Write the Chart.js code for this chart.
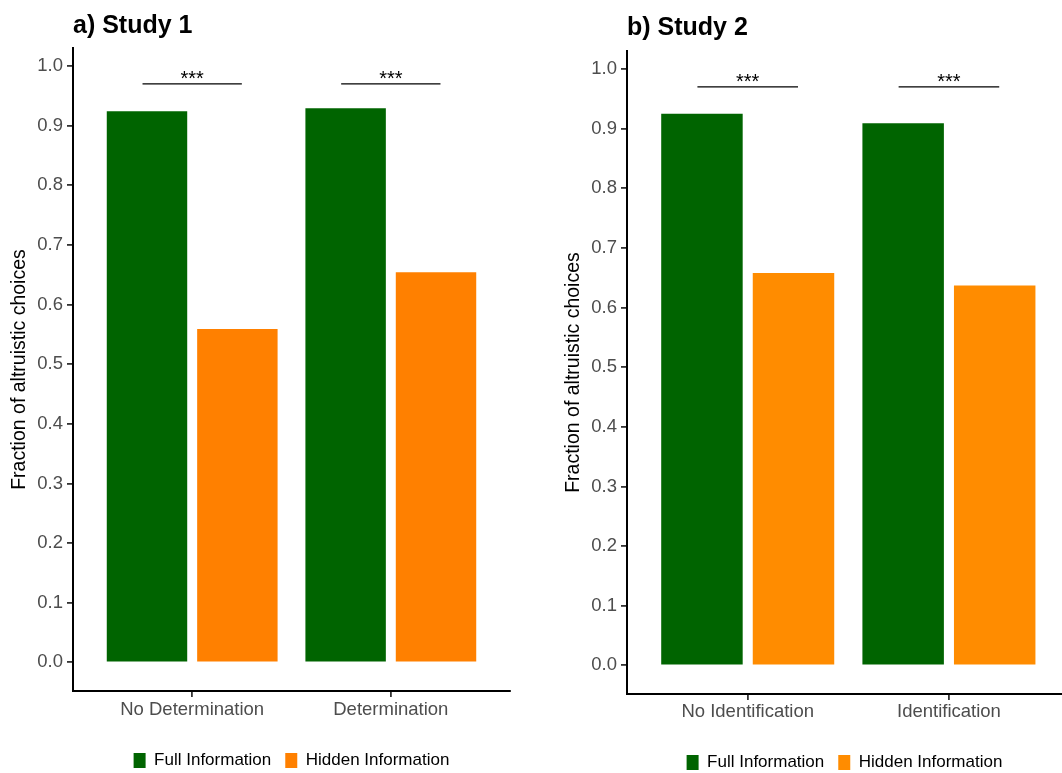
<!DOCTYPE html>
<html>
<head>
<meta charset="utf-8">
<script src="https://cdn.jsdelivr.net/npm/chart.js@4.4.1/dist/chart.umd.min.js"></script>
<style>
  html, body { margin: 0; padding: 0; background: #fff; }
  body { width: 1062px; height: 773px; position: relative; overflow: hidden; }
  .panel { position: absolute; top: 0; height: 773px; }
  #panelA { left: 0; width: 531px; }
  #panelB { left: 554px; width: 508px; }
</style>
</head>
<body>
<div class="panel" id="panelA"><canvas id="chartA"></canvas></div>
<div class="panel" id="panelB"><canvas id="chartB"></canvas></div>
<script>
// data
const seriesNames = ['Full Information', 'Hidden Information'];

const study1Categories = ['No Determination', 'Determination'];
const study1Full = [0.924, 0.929];
const study1Hidden = [0.559, 0.654];
const study1Sig = ['***', '***'];
const study1SigY = [0.97, 0.97];

const study2Categories = ['No Identification', 'Identification'];
const study2Full = [0.925, 0.909];
const study2Hidden = [0.658, 0.637];
const study2Sig = ['***', '***'];
const study2SigY = [0.97, 0.97];

const yTicks = [0, 0.1, 0.2, 0.3, 0.4, 0.5, 0.6, 0.7, 0.8, 0.9, 1.0];

const FONT = "'Liberation Sans', Arial, Helvetica, sans-serif";
Chart.defaults.font.family = FONT;

function makePanel(canvasId, cfg) {
  // significance bars drawn over each category pair
  const sigPlugin = {
    id: 'sigBrackets',
    afterDatasetsDraw(chart) {
      const { ctx, scales: { x, y } } = chart;
      ctx.save();
      ctx.strokeStyle = '#000';
      ctx.fillStyle = '#000';
      ctx.lineWidth = 1.2;
      ctx.font = '20px ' + FONT;
      ctx.textAlign = 'center';
      ctx.textBaseline = 'alphabetic';
      cfg.sig.forEach((lab, i) => {
        const yy = y.getPixelForValue(cfg.sigY[i]);
        const x0 = x.getPixelForValue(i + 1 - 0.25);
        const x1 = x.getPixelForValue(i + 1 + 0.25);
        ctx.beginPath();
        ctx.moveTo(x0, yy);
        ctx.lineTo(x1, yy);
        ctx.stroke();
        ctx.fillText(lab, x.getPixelForValue(i + 1), yy + 1);
      });
      ctx.restore();
    }
  };

  return new Chart(document.getElementById(canvasId), {
    type: 'bar',
    data: {
      datasets: [
        {
          label: seriesNames[0],
          data: cfg.full.map((v, i) => ({ x: i + 1, y: v })),
          backgroundColor: cfg.colors[0]
        },
        {
          label: seriesNames[1],
          data: cfg.hidden.map((v, i) => ({ x: i + 1, y: v })),
          backgroundColor: cfg.colors[1]
        }
      ]
    },
    options: {
      responsive: true,
      maintainAspectRatio: false,
      animation: false,
      layout: { padding: { left: 0, right: cfg.padRight, top: 0, bottom: 0 } },
      datasets: { bar: { categoryPercentage: 0.91, barPercentage: 0.89 } },
      plugins: {
        title: {
          display: true,
          text: cfg.title,
          align: 'start',
          fullSize: false,
          color: '#000',
          font: { size: 25, weight: 'bold' },
          padding: { top: cfg.titleTop, bottom: cfg.titleBottom }
        },
        legend: {
          position: 'bottom',
          fullSize: false,
          maxHeight: cfg.legendHeight,
          labels: {
            boxWidth: 12,
            boxHeight: 15,
            padding: 14,
            color: '#000',
            font: { size: 17 }
          }
        },
        tooltip: { enabled: false }
      },
      scales: {
        x: {
          type: 'linear',
          offset: false,
          min: 0.4,
          max: cfg.xMax,
          afterBuildTicks: s => { s.ticks = cfg.categories.map((c, i) => ({ value: i + 1 })); },
          afterFit: s => { s.height = cfg.xHeight; },
          ticks: {
            callback: v => cfg.categories[v - 1],
            color: '#4d4d4d',
            font: { size: 18.5 },
            padding: cfg.xPad,
            maxRotation: 0,
            autoSkip: false
          },
          grid: { offset: false, drawOnChartArea: false, tickLength: 6, color: '#333', lineWidth: 1.8 },
          border: { color: '#000', width: 2 }
        },
        y: {
          min: -0.048,
          max: 1.03,
          afterBuildTicks: s => { s.ticks = yTicks.map(v => ({ value: v })); },
          afterFit: s => { s.width = 73; },
          ticks: {
            callback: v => Number(v).toFixed(1),
            color: '#4d4d4d',
            font: { size: 18.5 },
            padding: 4
          },
          title: {
            display: true,
            text: 'Fraction of altruistic choices',
            color: '#000',
            font: { size: 19.5 },
            padding: { top: 8, bottom: 0 }
          },
          grid: { drawOnChartArea: false, tickLength: 6, color: '#333', lineWidth: 1.8 },
          border: { color: '#000', width: 2 }
        }
      }
    },
    plugins: [sigPlugin]
  });
}

makePanel('chartA', {
  title: 'a) Study 1',
  categories: study1Categories,
  full: study1Full,
  hidden: study1Hidden,
  sig: study1Sig,
  sigY: study1SigY,
  colors: ['#006400', '#ff8000'],
  xMax: 2.6,
  padRight: 21,
  titleTop: 11,
  titleBottom: 7,
  legendHeight: 35,
  xHeight: 47,
  xPad: 2
});

makePanel('chartB', {
  title: 'b) Study 2',
  categories: study2Categories,
  full: study2Full,
  hidden: study2Hidden,
  sig: study2Sig,
  sigY: study2SigY,
  colors: ['#006400', '#ff8c00'],
  xMax: 2.562,
  padRight: 0,
  titleTop: 13,
  titleBottom: 8,
  legendHeight: 33,
  xHeight: 46,
  xPad: 1
});
</script>
</body>
</html>
